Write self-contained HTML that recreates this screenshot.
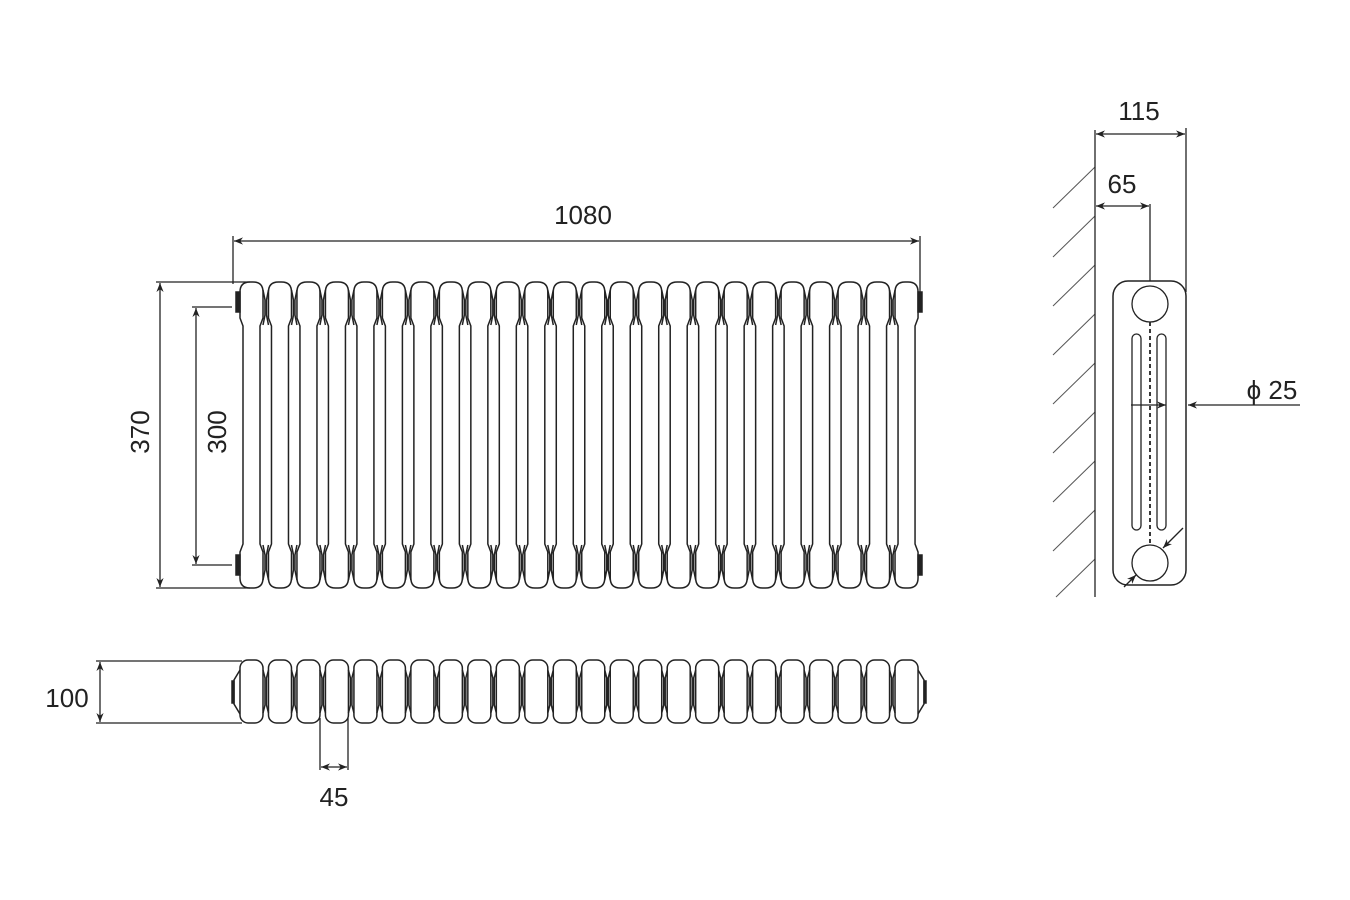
<!DOCTYPE html>
<html><head><meta charset="utf-8"><style>
html,body{margin:0;padding:0;background:#fff}
svg{display:block}
text{font-family:"Liberation Sans",Arial,sans-serif;fill:#222}
</style></head><body>
<svg id="s" width="1350" height="900" viewBox="0 0 1350 900" xmlns="http://www.w3.org/2000/svg">
<defs>
<marker id="a" viewBox="0 0 10 10" refX="10" refY="5" markerWidth="9" markerHeight="9" orient="auto-start-reverse" markerUnits="userSpaceOnUse">
<path d="M0,1 L10,5 L0,9 L3,5 Z" fill="#222"/></marker>
</defs>
<g id="g" stroke="#222" stroke-width="1.5" fill="none"></g>
<g stroke="#222" stroke-width="1.3" fill="none">
<line x1="233" y1="236" x2="233" y2="284"/>
<line x1="920" y1="236" x2="920" y2="292"/>
<line x1="234" y1="241" x2="919" y2="241" marker-start="url(#a)" marker-end="url(#a)"/>
<line x1="156" y1="282" x2="250" y2="282"/>
<line x1="156" y1="588" x2="250" y2="588"/>
<line x1="160" y1="283" x2="160" y2="587" marker-start="url(#a)" marker-end="url(#a)"/>
<line x1="192" y1="307" x2="232" y2="307"/>
<line x1="192" y1="565" x2="232" y2="565"/>
<line x1="196" y1="308" x2="196" y2="564" marker-start="url(#a)" marker-end="url(#a)"/>
<line x1="96" y1="661" x2="242" y2="661"/>
<line x1="96" y1="723" x2="242" y2="723"/>
<line x1="100" y1="662" x2="100" y2="722" marker-start="url(#a)" marker-end="url(#a)"/>
<line x1="320" y1="718" x2="320" y2="770"/>
<line x1="348" y1="718" x2="348" y2="770"/>
<line x1="321" y1="767" x2="347" y2="767" marker-start="url(#a)" marker-end="url(#a)"/>
<line x1="1095" y1="130" x2="1095" y2="597"/>
<line x1="1186" y1="128" x2="1186" y2="292"/>
<line x1="1096" y1="134" x2="1185" y2="134" marker-start="url(#a)" marker-end="url(#a)"/>
<line x1="1150" y1="204" x2="1150" y2="281"/>
<line x1="1096" y1="206" x2="1149" y2="206" marker-start="url(#a)" marker-end="url(#a)"/>
<rect x="1113" y="281" width="73" height="304" rx="15" stroke-width="1.5"/>
<circle cx="1150" cy="304" r="18"/>
<circle cx="1150" cy="563" r="18"/>
<rect x="1132" y="334" width="9" height="196" rx="4.5"/>
<rect x="1157" y="334" width="9" height="196" rx="4.5"/>
<line x1="1150" y1="322" x2="1150" y2="545" stroke-dasharray="4,3" stroke-width="1.8"/>
<line x1="1131" y1="405" x2="1166" y2="405" marker-end="url(#a)"/>
<line x1="1300" y1="405" x2="1188" y2="405" marker-end="url(#a)"/>
<line x1="1183" y1="528" x2="1163" y2="548" marker-end="url(#a)"/>
<line x1="1124" y1="587" x2="1136" y2="575" marker-end="url(#a)"/>
</g>
<g font-size="26">
<text x="583" y="224" text-anchor="middle">1080</text>
<text transform="translate(149,432) rotate(-90)" text-anchor="middle">370</text>
<text transform="translate(226,432) rotate(-90)" text-anchor="middle">300</text>
<text x="67" y="707" text-anchor="middle">100</text>
<text x="334" y="806" text-anchor="middle">45</text>
<text x="1139" y="120" text-anchor="middle">115</text>
<text x="1122" y="193" text-anchor="middle">65</text>
<text x="1272" y="399" text-anchor="middle">ϕ 25</text>
</g>
</svg>
<script>
var g=document.getElementById('g'),h='';
var P=28.48,W=23;
for(var i=0;i<24;i++){
 var x=240+i*P, R=x+W;
 h+='<path d="M'+x+',292 Q'+x+',282 '+(x+10)+',282 L'+(R-10)+',282 Q'+R+',282 '+R+',292 L'+R+',318 L'+(R-3)+',326 L'+(R-3)+',544 L'+R+',552 L'+R+',578 Q'+R+',588 '+(R-10)+',588 L'+(x+10)+',588 Q'+x+',588 '+x+',578 L'+x+',552 L'+(x+3)+',544 L'+(x+3)+',326 L'+x+',318 Z"/>';
 h+='<rect x="'+x+'" y="660" width="'+W+'" height="63" rx="8"/>';
 if(i<23){
  var n=x+P;
  [[290,300,315,325],[545,555,570,580]].forEach(function(v){
   h+='<path d="M'+R+','+v[0]+' L'+(R+2)+','+v[1]+' L'+(R+2)+','+v[2]+' L'+R+','+v[3]+'"/>';
   h+='<path d="M'+n+','+v[0]+' L'+(n-2)+','+v[1]+' L'+(n-2)+','+v[2]+' L'+n+','+v[3]+'"/>';
  });
  h+='<path d="M'+R+',670 L'+(R+2)+',678 L'+(R+2)+',705 L'+R+',713"/>';
  h+='<path d="M'+n+',670 L'+(n-2)+',678 L'+(n-2)+',705 L'+n+',713"/>';
 }
}
h+='<rect x="236" y="292" width="4" height="20" fill="#222"/><rect x="236" y="555" width="4" height="20" fill="#222"/>';
h+='<rect x="918" y="292" width="4" height="20" fill="#222"/><rect x="918" y="555" width="4" height="20" fill="#222"/>';
h+='<path d="M240,670 L234,680 L234,704 L240,714"/><rect x="232" y="681" width="2" height="22" fill="#222"/>';
h+='<path d="M918,670 L924,680 L924,704 L918,714"/><rect x="924" y="681" width="2" height="22" fill="#222"/>';
for(var k=0;k<9;k++){var y=167+49*k;
 var y2=y+41; var x1=1053; if(y2>597){x1=1053+(y2-597);y2=597;}
 h+='<line x1="1095" y1="'+y+'" x2="'+x1+'" y2="'+y2+'" stroke="#555" stroke-width="1"/>';}
g.innerHTML=h;
</script>
</body></html>
